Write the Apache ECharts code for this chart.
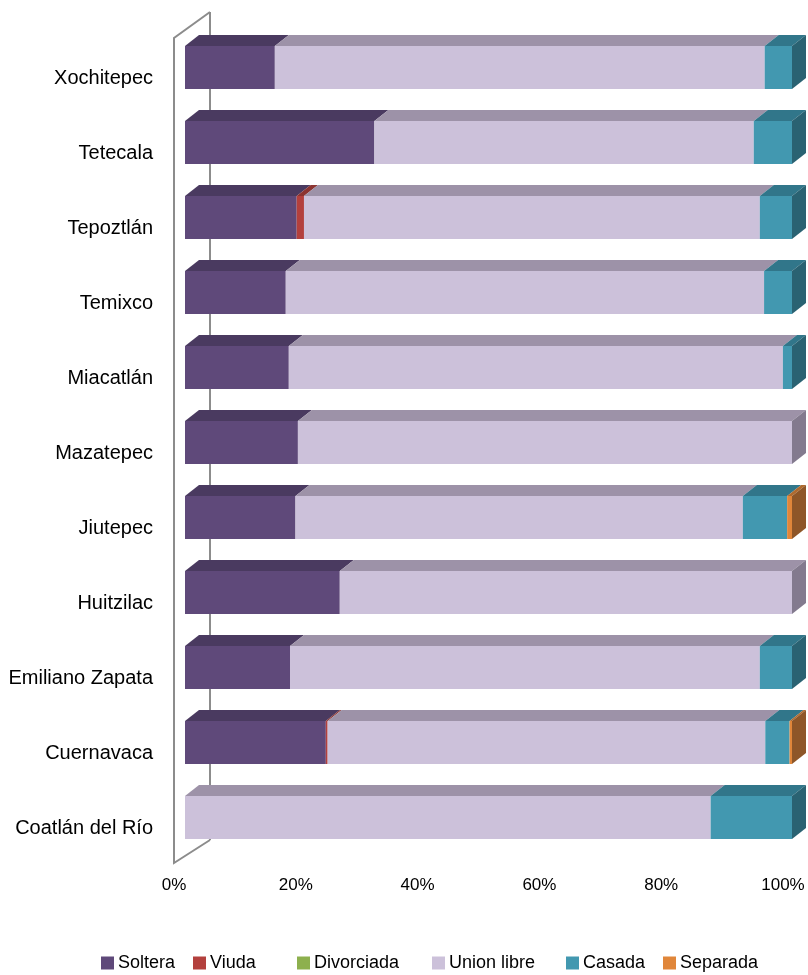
<!DOCTYPE html>
<html>
<head>
<meta charset="utf-8">
<script src="https://cdn.jsdelivr.net/npm/echarts@6/dist/echarts.min.js"></script>
<style>
html,body{margin:0;padding:0;background:#fff;}
#c{width:808px;height:975px;}
</style>
</head>
<body>
<div id="c"></div>
<script>
// Categories from top to bottom
const categories = ['Xochitepec','Tetecala','Tepoztlán','Temixco','Miacatlán','Mazatepec','Jiutepec','Huitzilac','Emiliano Zapata','Cuernavaca','Coatlán del Río'];
const seriesNames = ['Soltera','Viuda','Divorciada','Union libre','Casada','Separada'];
// Percent values per municipality (same order as categories)
const soltera    = [14.8, 31.2, 18.4, 16.6, 17.1, 18.6, 18.2, 25.5, 17.3, 23.2, 0];
const viuda      = [0,    0,    1.2,  0,    0,    0,    0,    0,    0,    0.3,  0];
const divorciada = [0,    0,    0,    0,    0,    0,    0,    0,    0,    0,    0];
const unionLibre = [80.7, 62.5, 75.1, 78.8, 81.4, 81.4, 73.7, 74.5, 77.4, 72.1, 86.6];
const casada     = [4.5,  6.3,  5.3,  4.6,  1.5,  0,    7.3,  0,    5.3,  4.0,  13.4];
const separada   = [0,    0,    0,    0,    0,    0,    0.8,  0,    0,    0.4,  0];
const xTicks = ['0%','20%','40%','60%','80%','100%'];

const allValues = [soltera, viuda, divorciada, unionLibre, casada, separada];
const frontColors = ['#5F497A','#B3403D','#8DB04E','#CCC1DA','#4298B0','#E0863A'];
const topColors   = ['#4A3A60','#8C3431','#6F8C3C','#9D92A8','#31768A','#B06A2E'];
const sideColors  = ['#3F3152','#7A2C2A','#5E7733','#837A8E','#2A6272','#8E5628'];
const legendLeft  = [101, 193, 297, 432, 566, 663];

const FONT = '"Liberation Sans Narrow","Arial Narrow","Liberation Sans",Arial,sans-serif';
const DX = 14, DY = 11;

// last non-zero series index per category
const lastIdx = categories.map((c, i) => {
  let li = -1;
  allValues.forEach((arr, s) => { if (arr[i] > 0) li = s; });
  return li;
});

const series = [];
const cum = categories.map(() => 0);
allValues.forEach((arr, s) => {
  const data = [];
  arr.forEach((v, i) => {
    if (v > 0) {
      data.push([cum[i], cum[i] + v, i, lastIdx[i] === s ? 1 : 0]);
    }
    cum[i] += v;
  });
  series.push({
    type: 'custom',
    name: seriesNames[s],
    xAxisIndex: 0, yAxisIndex: 0,
    itemStyle: { color: frontColors[s] },
    encode: { x: [0, 1], y: 2 },
    data: data,
    z: 10,
    renderItem: function (params, api) {
      const a = api.coord([api.value(0), api.value(2)]);
      const b = api.coord([api.value(1), api.value(2)]);
      const band = api.size([0, 1])[1];
      const h = band * 0.573;
      const top = a[1] - h / 2, bot = a[1] + h / 2;
      const x0 = a[0], x1 = b[0];
      const children = [
        { type: 'rect', shape: { x: x0, y: top, width: x1 - x0, height: h },
          style: { fill: frontColors[s] } },
        { type: 'polygon', shape: { points: [[x0, top], [x1, top], [x1 + DX, top - DY], [x0 + DX, top - DY]] },
          style: { fill: topColors[s] } }
      ];
      if (api.value(3) === 1) {
        children.push({ type: 'polygon', shape: { points: [[x1, top], [x1 + DX, top - DY], [x1 + DX, bot - DY], [x1, bot]] },
          style: { fill: sideColors[s] } });
      }
      return { type: 'group', children: children };
    }
  });
});

const chart = echarts.init(document.getElementById('c'), null, { renderer: 'canvas' });
const option = {
  backgroundColor: '#ffffff',
  animation: false,
  grid: [
    { left: 185, width: 607, top: 30, height: 825, outerBoundsMode: 'none', containLabel: false },
    { left: 174, width: 609, top: 41, height: 825, outerBoundsMode: 'none', containLabel: false }
  ],
  xAxis: [
    { type: 'value', gridIndex: 0, min: 0, max: 100, interval: 20, show: false },
    { type: 'value', gridIndex: 1, min: 0, max: 100, interval: 20,
      axisLine: { show: false }, axisTick: { show: false }, splitLine: { show: false },
      axisLabel: { margin: 11, fontSize: 17, color: '#000', fontFamily: FONT,
        formatter: function (v) { return xTicks[Math.round(v / 20)]; } } }
  ],
  yAxis: [
    { type: 'category', gridIndex: 0, data: categories, inverse: true, show: false },
    { type: 'category', gridIndex: 1, data: categories, inverse: true,
      axisLine: { show: false }, axisTick: { show: false }, splitLine: { show: false },
      axisLabel: { margin: 21, fontSize: 20, color: '#000', fontFamily: FONT } }
  ],
  legend: seriesNames.map((n, i) => ({
    left: legendLeft[i], top: 954, padding: 0,
    itemWidth: 13, itemHeight: 13,
    icon: 'rect',
    textStyle: { fontSize: 18, color: '#000', fontFamily: FONT, padding: [0, 0, 0, -1] },
    data: [{ name: n, itemStyle: { color: frontColors[i] } }]
  })),
  series: series
};
chart.setOption(option);

// Walls (plot frame decoration)
const gTop = 30, gBot = 855;
const fx = 174, bx = 210;
const lineStyle = { stroke: '#8C8C8C', lineWidth: 2, fill: null };
chart.setOption({
  graphic: [
    { type: 'polyline', z: 1, shape: { points: [[bx, gTop - 18], [bx, gBot - 15]] }, style: lineStyle },
    { type: 'polyline', z: 1, shape: { points: [[bx, gTop - 18], [fx, gTop + 8], [fx, gBot + 8], [bx, gBot - 15]] }, style: lineStyle }
  ]
});
</script>
</body>
</html>
